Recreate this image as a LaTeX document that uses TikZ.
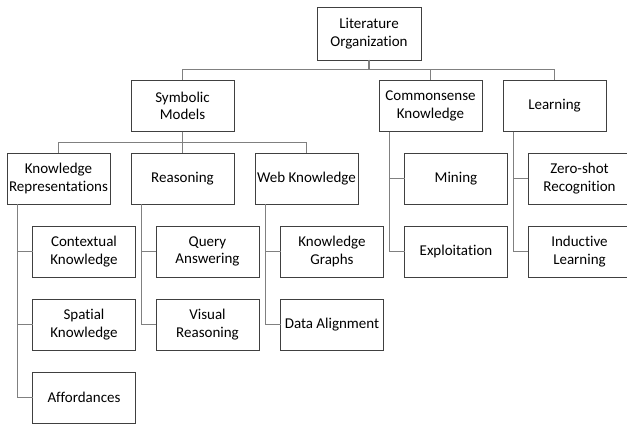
\documentclass[tikz,border=0pt]{standalone}
\usepackage{fontspec}
\setmainfont{Carlito}[RawFeature=-liga]
\begin{document}
\begin{tikzpicture}[
    x = 1pt,
    y = -1pt,
    box/.style = {draw=black!75, line width=0.9pt, minimum width=103pt,
              minimum height=51pt, inner sep=0pt, outer sep=0pt,
              align=center, font=\fontsize{15}{17.5}\selectfont},
    link/.style = {draw=black!50, line width=1.1pt},
    ]

\useasboundingbox (0,0) rectangle (627,428);

% top levels
\node[box, minimum width=104pt, minimum height=53pt] (root) at (369,33.5) {Literature\\Organization};
\node[box] (symbolic) at (182.5,106) {Symbolic\\Models};
\node[box] (commonsense) at (430.5,106) {Commonsense\\Knowledge};
\node[box] (learning) at (554.5,106) {Learning};

\node[box] (kr) at (58.5,178.5) {Knowledge\\Representations};
\node[box] (reasoning) at (182.5,178.5) {Reasoning};
\node[box] (web) at (306.5,178.5) {Web Knowledge};
\node[box] (mining) at (456,178.5) {Mining};
\node[box] (zeroshot) at (579.5,178.5) {Zero-shot\\Recognition};

% leaves
\node[box] (contextual) at (84,251.5) {Contextual\\Knowledge};
\node[box] (spatial) at (84,324.5) {Spatial\\Knowledge};
\node[box] (affordances) at (84,397.5) {Affordances};
\node[box] (query) at (207.5,251.5) {Query\\Answering};
\node[box] (visual) at (207.5,324.5) {Visual\\Reasoning};
\node[box] (graphs) at (332,251.5) {Knowledge\\Graphs};
\node[box] (alignment) at (332,324.5) {Data Alignment};
\node[box] (exploitation) at (456,251.5) {Exploitation};
\node[box] (inductive) at (579.5,251.5) {Inductive\\Learning};

% connectors
\draw[link] (root.south) -- ++(0,9.5) -| (symbolic.north);
\draw[link] (root.south) -- ++(0,9.5) -| (commonsense.north);
\draw[link] (root.south) -- ++(0,9.5) -| (learning.north);
\draw[link] (symbolic.south) -- ++(0,11) -| (kr.north);
\draw[link] (symbolic.south) -- (reasoning.north);
\draw[link] (symbolic.south) -- ++(0,11) -| (web.north);

\foreach \parent/\child in {kr/contextual, kr/spatial, kr/affordances,
    reasoning/query, reasoning/visual, web/graphs, web/alignment,
    commonsense/mining, commonsense/exploitation,
    learning/zeroshot, learning/inductive}
  \draw[link] ([xshift=10.5pt]\parent.south west) |- (\child.west);

\end{tikzpicture}
\end{document}
